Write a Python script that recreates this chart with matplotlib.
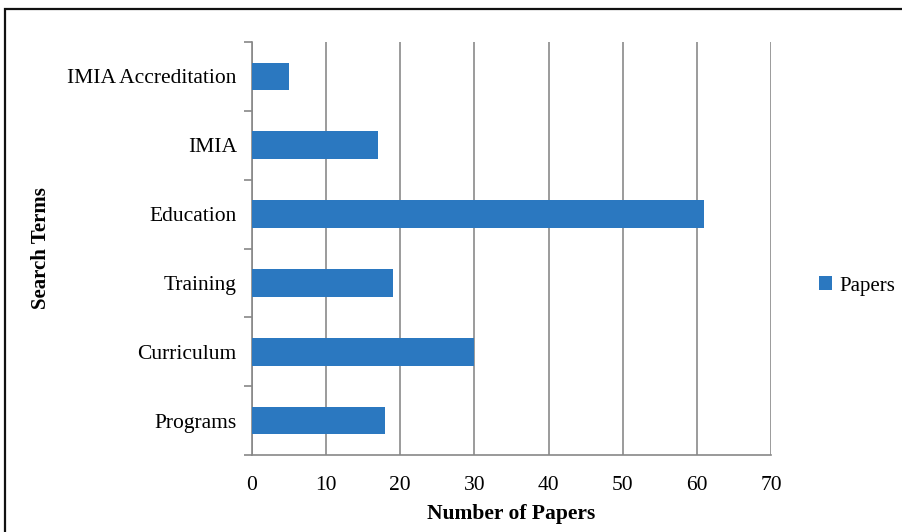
import matplotlib.pyplot as plt
from matplotlib.patches import Rectangle

# values
terms = ['Programs', 'Curriculum', 'Training', 'Education', 'IMIA', 'IMIA Accreditation']
papers = [18, 30, 19, 61, 17, 5]
x_ticks = [0, 10, 20, 30, 40, 50, 60, 70]

plt.rcParams['font.family'] = ['Liberation Serif', 'DejaVu Serif']

fig = plt.figure(figsize=(9.02, 5.32), dpi=100)
W, H = 902, 532
ax = fig.add_axes([252 / W, 1 - 455 / H, (771 - 252) / W, (455 - 42) / H])

bar_color = '#2B78C0'
pos = list(range(len(terms)))
ax.barh(pos, papers, height=0.4, color=bar_color, zorder=3, label='Papers')

ax.set_xlim(0, 70)
ax.set_ylim(-0.5, len(terms) - 0.5)
ax.set_xticks(x_ticks)
ax.set_xticklabels([str(t) for t in x_ticks], fontsize=15.5)
ax.set_yticks(pos)
ax.set_yticklabels(terms, fontsize=15.5)
ax.tick_params(axis='y', length=0, pad=11)
ax.tick_params(axis='x', length=0, pad=15)

# category boundary ticks on the left, like Excel
ax.set_yticks([p - 0.5 for p in pos] + [len(terms) - 0.5], minor=True)
ax.tick_params(axis='y', which='minor', length=6, color='#888888', width=1.2)
ax.set_xticks([t for t in x_ticks], minor=True)
ax.tick_params(axis='x', which='minor', length=6, color='#888888', width=1.2)

ax.grid(axis='x', color='#8a8a8a', linewidth=1.2, zorder=0)
for side in ['top', 'right']:
    ax.spines[side].set_visible(False)
for side in ['left', 'bottom']:
    ax.spines[side].set_color('#888888')
    ax.spines[side].set_linewidth(1.2)

ax.set_xlabel('Number of Papers', fontsize=15.5, fontweight='bold')
ax.xaxis.set_label_coords(0.5, -(514 - 455) / (455 - 42))
ax.xaxis.label.set_va('center')
ax.set_ylabel('Search Terms', fontsize=15, fontweight='bold')
ax.yaxis.set_label_coords(-(252 - 41) / (771 - 252), 0.5)
ax.yaxis.label.set_va('center')

leg = fig.legend(loc='center left', bbox_to_anchor=(800 / W, 1 - 286 / H),
                 frameon=False, fontsize=15, handlelength=0.65, handleheight=0.65,
                 handletextpad=0.35)

# partial frame around the figure (top and left edges visible)
fig.patches.append(Rectangle((5 / W, -0.1), 1.2, 1 - 9 / H + 0.1,
                             transform=fig.transFigure, fill=False,
                             edgecolor='#111111', linewidth=1.6))

fig.savefig('out.png', dpi=100)
